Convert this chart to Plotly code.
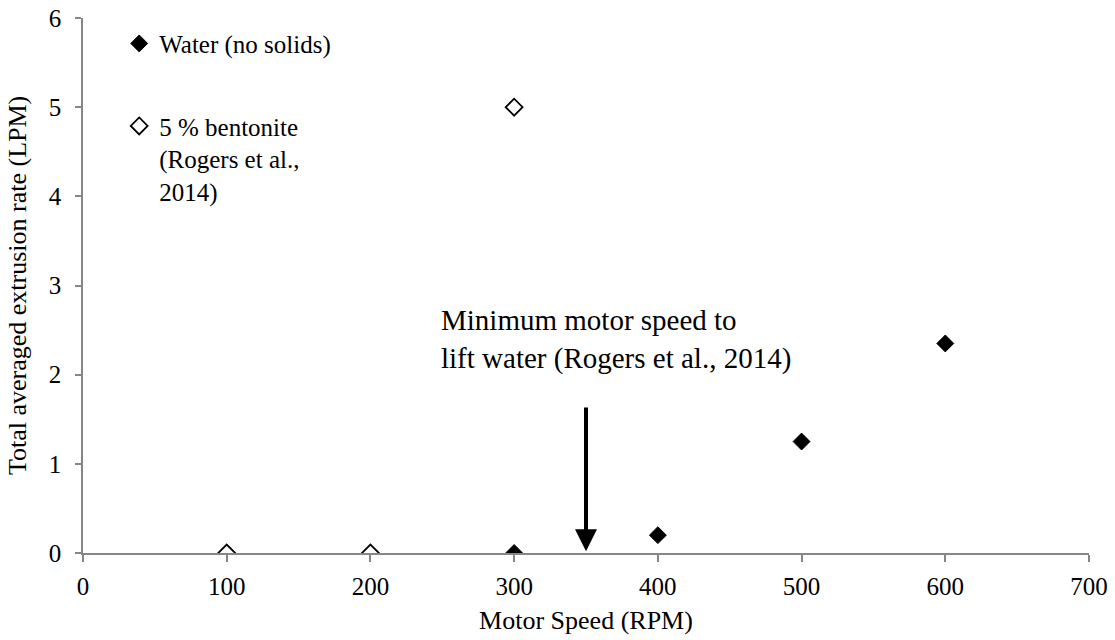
import plotly.graph_objects as go

# Data
water_rpm = [300, 400, 500, 600]
water_lpm = [0.0, 0.2, 1.25, 2.35]
bent_rpm = [100, 200, 300]
bent_lpm = [0.0, 0.0, 5.0]

x_ticks = [0, 100, 200, 300, 400, 500, 600, 700]
y_ticks = [0, 1, 2, 3, 4, 5, 6]

min_speed = 350
arrow_top = 1.65
arrow_tip = 0.02

FONT = "Liberation Serif, Times New Roman, serif"
AXIS_COLOR = "#868686"

fig = go.Figure()
fig.add_trace(go.Scatter(
    x=water_rpm, y=water_lpm, mode="markers", name="Water (no solids)",
    legendgroup="a",
    marker=dict(symbol="diamond", size=13, color="black", line=dict(color="black", width=1)),
))
fig.add_trace(go.Scatter(
    x=bent_rpm, y=bent_lpm, mode="markers",
    name="5 % bentonite<br>(Rogers et al.,<br>2014)",
    legendgroup="b",
    marker=dict(symbol="diamond", size=13, color="white", line=dict(color="black", width=1.8)),
))

fig.add_annotation(
    x=min_speed, y=arrow_tip, ax=min_speed, ay=arrow_top,
    xref="x", yref="y", axref="x", ayref="y",
    showarrow=True, arrowhead=2, arrowsize=1.1, arrowwidth=4, arrowcolor="black", text="",
)
fig.add_annotation(
    x=248, y=2.39, xref="x", yref="y", xanchor="left", yanchor="middle",
    text="Minimum motor speed to<br>lift water (Rogers et al., 2014)",
    showarrow=False, align="left",
    font=dict(family=FONT, size=29, color="black"),
)
# y-axis title
fig.add_annotation(
    x=-0.065, y=0.5, xref="paper", yref="paper", xanchor="center", yanchor="middle",
    text="Total averaged extrusion rate (LPM)", textangle=-90, showarrow=False,
    font=dict(family=FONT, size=26, color="black"),
)

fig.update_layout(
    width=1115, height=640,
    margin=dict(l=83, r=26, t=18, b=87),
    paper_bgcolor="white", plot_bgcolor="white",
    font=dict(family=FONT, size=26, color="black"),
    showlegend=True,
    legend=dict(
        x=0.036, y=0.995, xanchor="left", yanchor="top",
        bgcolor="rgba(0,0,0,0)", valign="top",
        tracegroupgap=47, itemwidth=30,
        font=dict(family=FONT, size=25, color="black"),
    ),
    xaxis=dict(
        range=[0, 700], tickvals=x_ticks, ticktext=[str(v) for v in x_ticks],
        showgrid=False, zeroline=False, showline=True, linecolor=AXIS_COLOR, linewidth=1.5,
        ticks="outside", ticklen=7, tickcolor=AXIS_COLOR, tickwidth=1.5,
        ticklabelstandoff=3,
        automargin=False,
        title=dict(text="Motor Speed (RPM)", font=dict(family=FONT, size=26), standoff=12),
        tickfont=dict(family=FONT, size=25),
    ),
    yaxis=dict(
        range=[0, 6], tickvals=y_ticks, ticktext=[str(v) for v in y_ticks],
        showgrid=False, zeroline=False, showline=True, linecolor=AXIS_COLOR, linewidth=1.5,
        ticks="outside", ticklen=6, tickcolor=AXIS_COLOR, tickwidth=1.5,
        ticklabelstandoff=9,
        automargin=False,
        tickfont=dict(family=FONT, size=25),
    ),
)

fig.write_html("out.html")
